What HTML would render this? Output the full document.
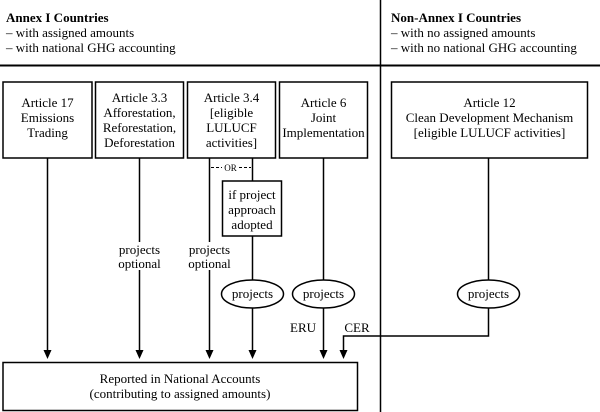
<!DOCTYPE html>
<html><head><meta charset="utf-8"><style>
body{margin:0;background:#fff}
svg{display:block}
text{font-family:"Liberation Serif",serif;font-size:13px;fill:#000}
</style></head><body>
<svg width="600" height="412" viewBox="0 0 600 412" xmlns="http://www.w3.org/2000/svg">
<defs><marker id="a" markerWidth="8" markerHeight="10" refX="4" refY="9" orient="auto-start-reverse" markerUnits="userSpaceOnUse"><path d="M0,0 L8,0 L4,10 Z" fill="#000" transform="rotate(0)"/></marker></defs>
<g stroke="#000" fill="none" stroke-width="1.5">
<line x1="0" y1="65.5" x2="600" y2="65.5" stroke-width="2"/>
<line x1="380.5" y1="0" x2="380.5" y2="412"/>
<rect x="3" y="82" width="89" height="76"/>
<rect x="95.5" y="82" width="88" height="76"/>
<rect x="187.5" y="82" width="88" height="76"/>
<rect x="279.5" y="82" width="88" height="76"/>
<rect x="391.5" y="82" width="196" height="76"/>
<rect x="222.5" y="181" width="59" height="55"/>
<rect x="3" y="362.5" width="354.5" height="48"/>
<ellipse cx="252.5" cy="294" rx="31" ry="14"/>
<ellipse cx="323.5" cy="294" rx="31" ry="14"/>
<ellipse cx="488.5" cy="294" rx="31" ry="14"/>
<line x1="47.5" y1="158" x2="47.5" y2="350"/>
<line x1="139.5" y1="158" x2="139.5" y2="242"/>
<line x1="139.5" y1="270" x2="139.5" y2="350"/>
<line x1="209.5" y1="158" x2="209.5" y2="242"/>
<line x1="209.5" y1="270" x2="209.5" y2="350"/>
<line x1="252.5" y1="158" x2="252.5" y2="181"/>
<line x1="252.5" y1="236" x2="252.5" y2="280"/>
<line x1="252.5" y1="308" x2="252.5" y2="350"/>
<line x1="323.5" y1="158" x2="323.5" y2="280"/>
<line x1="323.5" y1="308" x2="323.5" y2="350"/>
<line x1="488.5" y1="158" x2="488.5" y2="280"/>
<polyline points="488.5,308 488.5,336 343.5,336 343.5,350"/>
<line x1="211" y1="167.5" x2="222" y2="167.5" stroke-width="1" stroke-dasharray="3,2"/>
<line x1="239" y1="167.5" x2="251" y2="167.5" stroke-width="1" stroke-dasharray="3,2"/>
</g>
<g fill="#000">
<path d="M43.5,350 h8 l-4,9z"/><path d="M135.5,350 h8 l-4,9z"/><path d="M205.5,350 h8 l-4,9z"/>
<path d="M248.5,350 h8 l-4,9z"/><path d="M319.5,350 h8 l-4,9z"/><path d="M339.5,350 h8 l-4,9z"/>
</g>
<text x="6" y="22" font-weight="bold">Annex I Countries</text>
<text x="6" y="37">– with assigned amounts</text>
<text x="6" y="52">– with national GHG accounting</text>
<text x="391" y="22" font-weight="bold">Non-Annex I Countries</text>
<text x="391" y="37">– with no assigned amounts</text>
<text x="391" y="52">– with no national GHG accounting</text>
<g text-anchor="middle">
<text x="47.5" y="107">Article 17</text><text x="47.5" y="122">Emissions</text><text x="47.5" y="137">Trading</text>
<text x="139.5" y="102">Article 3.3</text><text x="139.5" y="117">Afforestation,</text><text x="139.5" y="132">Reforestation,</text><text x="139.5" y="147">Deforestation</text>
<text x="231.5" y="102">Article 3.4</text><text x="231.5" y="117">[eligible</text><text x="231.5" y="132">LULUCF</text><text x="231.5" y="147">activities]</text>
<text x="323.5" y="107">Article 6</text><text x="323.5" y="122">Joint</text><text x="323.5" y="137">Implementation</text>
<text x="489.5" y="107">Article 12</text><text x="489.5" y="122">Clean Development Mechanism</text><text x="489.5" y="137">[eligible LULUCF activities]</text>
<text x="230.5" y="171" style="font-size:9px">OR</text>
<text x="252" y="199">if project</text><text x="252" y="214">approach</text><text x="252" y="229">adopted</text>
<text x="139.5" y="254">projects</text><text x="139.5" y="268">optional</text>
<text x="209.5" y="254">projects</text><text x="209.5" y="268">optional</text>
<text x="252.5" y="298">projects</text><text x="323.5" y="298">projects</text><text x="488.5" y="298">projects</text>
<text x="303" y="332">ERU</text><text x="357" y="332">CER</text>
<text x="180" y="383">Reported in National Accounts</text>
<text x="180" y="398">(contributing to assigned amounts)</text>
</g>
</svg>
</body></html>
